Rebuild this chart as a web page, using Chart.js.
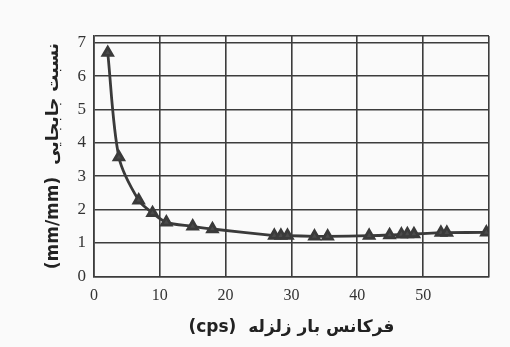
<!DOCTYPE html>
<html>
<head>
<meta charset="utf-8">
<script src="https://cdn.jsdelivr.net/npm/chart.js@4/dist/chart.umd.min.js"></script>
<style>
  html, body { margin: 0; padding: 0; background: #fafafa; }
  #wrap { width: 510px; height: 347px; }
</style>
</head>
<body>
<div id="wrap"><canvas id="myChart"></canvas></div>
<script>
'use strict';

// frequency (cps) and displacement ratio (mm/mm)
const frequency = [2.1, 3.8, 6.8, 8.9, 11, 15, 18, 27.4, 28.4, 29.4, 33.5, 35.5, 41.8, 44.9, 46.7, 47.6, 48.6, 52.7, 53.6, 59.6];
const ratio = [6.7, 3.57, 2.28, 1.9, 1.62, 1.5, 1.42, 1.22, 1.22, 1.22, 1.2, 1.2, 1.22, 1.24, 1.26, 1.27, 1.27, 1.31, 1.31, 1.32];

const xTicks = [0, 10, 20, 30, 40, 50, 60];
const yTicks = [0, 1, 2, 3, 4, 5, 6, 7, 7.2];

const xTitle = '(cps)  فرکانس بار زلزله';
const yTitle = '(mm/mm)  نسبت جابجایی';

const points = frequency.map((f, i) => ({ x: f, y: ratio[i] }));

new Chart(document.getElementById('myChart'), {
    type: 'scatter',
    data: {
        datasets: [
            {
                data: points,
                showLine: true,
                borderColor: '#3a3a3a',
                backgroundColor: '#4a4a4a',
                borderWidth: 2.8,
                tension: 0.3,
                pointStyle: 'triangle',
                pointRadius: 5.5,
                pointHoverRadius: 5.5
            }
        ]
    },
    options: {
        responsive: true,
        maintainAspectRatio: false,
        animation: false,
        layout: {
            padding: { left: 43, right: 21, top: 36, bottom: 9 }
        },
        plugins: {
            legend: { display: false },
            tooltip: { enabled: false }
        },
        scales: {
            x: {
                type: 'linear',
                min: 0,
                max: 60,
                afterBuildTicks: scale => {
                    scale.ticks = xTicks.map(v => ({ value: v }));
                },
                grid: { color: '#3c3c3c', lineWidth: 1.6, drawTicks: false },
                border: { color: '#3c3c3c', width: 1.6 },
                ticks: {
                    padding: 10,
                    color: '#333',
                    font: { family: 'Liberation Serif', size: 16 },
                    callback: v => (v === 60 ? '' : v)
                },
                title: {
                    display: true,
                    text: xTitle,
                    color: '#222',
                    font: { family: 'DejaVu Sans', size: 17, weight: 'bold' },
                    padding: { top: 2, bottom: 0 }
                }
            },
            y: {
                type: 'linear',
                min: 0,
                max: 7.2,
                afterBuildTicks: scale => {
                    scale.ticks = yTicks.map(v => ({ value: v }));
                },
                grid: { color: '#3c3c3c', lineWidth: 1.6, drawTicks: false },
                border: { color: '#3c3c3c', width: 1.6 },
                ticks: {
                    padding: 8,
                    color: '#333',
                    font: { family: 'Liberation Serif', size: 17 },
                    callback: v => (Number.isInteger(v) ? v : '')
                },
                title: {
                    display: true,
                    text: yTitle,
                    color: '#222',
                    font: { family: 'DejaVu Sans', size: 17, weight: 'bold' },
                    padding: { top: 0, bottom: 6 }
                }
            }
        }
    }
});
</script>
</body>
</html>
